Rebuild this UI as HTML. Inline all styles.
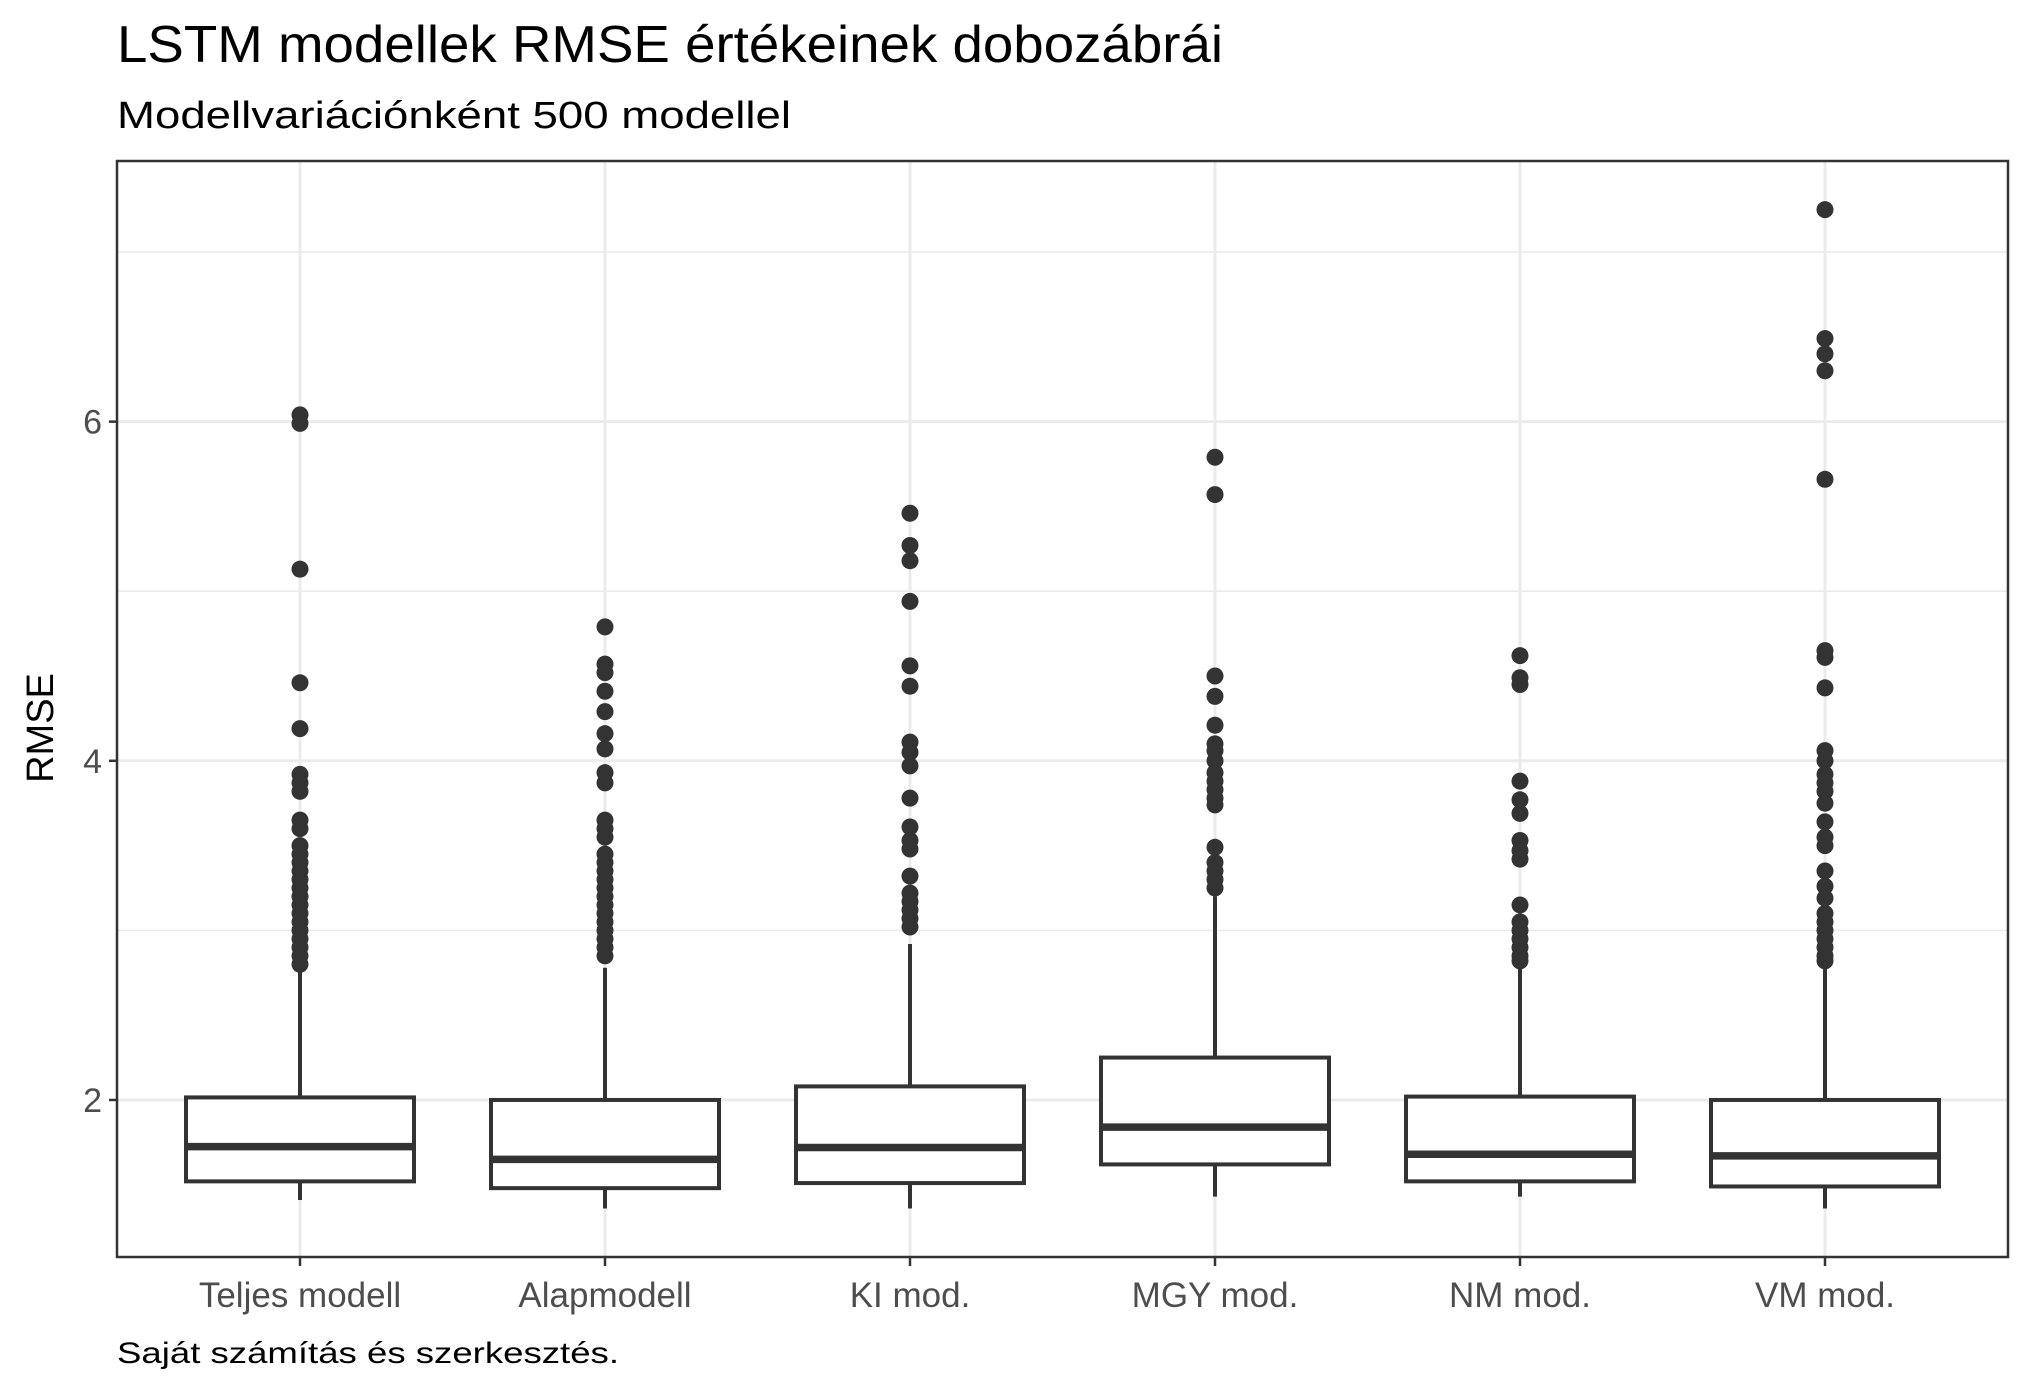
<!DOCTYPE html>
<html><head><meta charset="utf-8"><style>
html,body{margin:0;padding:0;background:#fff;}
svg{display:block;font-family:"Liberation Sans",sans-serif;}
</style></head><body>
<svg id="chart" width="2034" height="1393" viewBox="0 0 2034 1393">
<text x="117" y="62" font-size="52" textLength="1106" lengthAdjust="spacingAndGlyphs" fill="#000">LSTM modellek RMSE értékeinek dobozábrái</text>
<text x="117" y="128" font-size="38" textLength="674" lengthAdjust="spacingAndGlyphs" fill="#000">Modellvariációnként 500 modellel</text>
<text x="117" y="1363" font-size="30" textLength="502" lengthAdjust="spacingAndGlyphs" fill="#000">Saját számítás és szerkesztés.</text>
<text transform="translate(53,728) rotate(-90)" text-anchor="middle" font-size="38" fill="#000">RMSE</text>
<g id="grid"></g><g id="marks"></g><g id="axes"></g>
</svg>
<script>
const categories=["Teljes modell","Alapmodell","KI mod.","MGY mod.","NM mod.","VM mod."];
const q1=[1.52,1.48,1.51,1.62,1.52,1.49];
const medians=[1.725,1.65,1.72,1.84,1.68,1.67];
const q3=[2.015,2.0,2.08,2.25,2.02,2.0];
const whiskerLow=[1.41,1.36,1.36,1.43,1.43,1.36];
const whiskerHigh=[2.76,2.78,2.92,3.2,2.78,2.8];
const outliers=[
[6.04,5.99,5.13,4.46,4.19,3.92,3.87,3.82,3.65,3.6,3.5,3.45,3.4,3.35,3.3,3.25,3.2,3.15,3.1,3.05,3.0,2.95,2.9,2.85,2.8],
[4.79,4.57,4.52,4.41,4.29,4.16,4.07,3.93,3.87,3.65,3.6,3.55,3.45,3.4,3.35,3.3,3.25,3.2,3.15,3.1,3.05,3.0,2.95,2.9,2.85],
[5.46,5.27,5.18,4.94,4.56,4.44,4.11,4.05,3.97,3.78,3.61,3.53,3.48,3.32,3.22,3.17,3.12,3.07,3.02],
[5.79,5.57,4.5,4.38,4.21,4.1,4.06,4.0,3.93,3.88,3.83,3.78,3.74,3.49,3.4,3.35,3.3,3.25],
[4.62,4.49,4.45,3.88,3.77,3.69,3.53,3.47,3.42,3.15,3.05,3.0,2.95,2.9,2.85,2.82],
[7.25,6.49,6.4,6.3,5.66,4.65,4.61,4.43,4.06,4.0,3.92,3.87,3.82,3.75,3.64,3.55,3.5,3.35,3.26,3.19,3.1,3.05,3.0,2.95,2.9,2.85,2.82]];
const majorTicks=[2,4,6];
const minorTicks=[3,5,7];
const tickLabels=["2","4","6"];

const L=117,R=2008,T=161,B=1257;
const yMin=1.074,yMax=7.537;
function y(v){return B-(v-yMin)/(yMax-yMin)*(B-T);}
const step=(R-L)/(categories.length-1+1.2);
function x(i){return L+(0.6+i)*step;}
const NS="http://www.w3.org/2000/svg";
function mk(p,tag,a){const e=document.createElementNS(NS,tag);for(const k in a)e.setAttribute(k,a[k]);p.appendChild(e);return e;}
const grid=document.getElementById('grid'),marks=document.getElementById('marks'),axes=document.getElementById('axes');
mk(grid,'rect',{x:L,y:T,width:R-L,height:B-T,fill:'#fff'});
minorTicks.forEach(v=>{const e=mk(grid,'line',{x1:L,x2:R,y1:y(v),y2:y(v),stroke:'#ebebeb','stroke-width':1.6});

});
majorTicks.forEach((v,i)=>{const e=mk(grid,'line',{x1:L,x2:R,y1:y(v),y2:y(v),stroke:'#ebebeb','stroke-width':3});


mk(axes,'line',{x1:L-8,x2:L,y1:y(v),y2:y(v),stroke:'#333','stroke-width':2.5});
const t=mk(axes,'text',{x:L-15,y:y(v)+12,'text-anchor':'end','font-size':34,fill:'#4d4d4d'});t.textContent=tickLabels[i];

});
categories.forEach((c,i)=>{const cx=x(i),hw=114;
const g=mk(grid,'line',{x1:cx,x2:cx,y1:T,y2:B,stroke:'#ebebeb','stroke-width':3});


const grp=mk(marks,'g',{});


mk(grp,'line',{x1:cx,x2:cx,y1:y(q3[i]),y2:y(whiskerHigh[i]),stroke:'#333','stroke-width':4});
mk(grp,'line',{x1:cx,x2:cx,y1:y(q1[i]),y2:y(whiskerLow[i]),stroke:'#333','stroke-width':4});
mk(grp,'rect',{x:cx-hw,y:y(q3[i]),width:2*hw,height:y(q1[i])-y(q3[i]),fill:'#fff',stroke:'#333','stroke-width':4});
mk(grp,'line',{x1:cx-hw,x2:cx+hw,y1:y(medians[i]),y2:y(medians[i]),stroke:'#333','stroke-width':7.5});
outliers[i].forEach(v=>{const d=mk(grp,'circle',{cx:cx,cy:y(v),r:8.5,fill:'#333'});

});
mk(axes,'line',{x1:cx,x2:cx,y1:B,y2:B+9,stroke:'#333','stroke-width':2.5});
const t=mk(axes,'text',{x:cx,y:1307,'text-anchor':'middle','font-size':35,fill:'#4d4d4d'});t.textContent=c;

});
const fr=mk(axes,'rect',{x:L,y:T,width:R-L,height:B-T,fill:'none',stroke:'#333','stroke-width':2.5});


</script>
</body></html>
